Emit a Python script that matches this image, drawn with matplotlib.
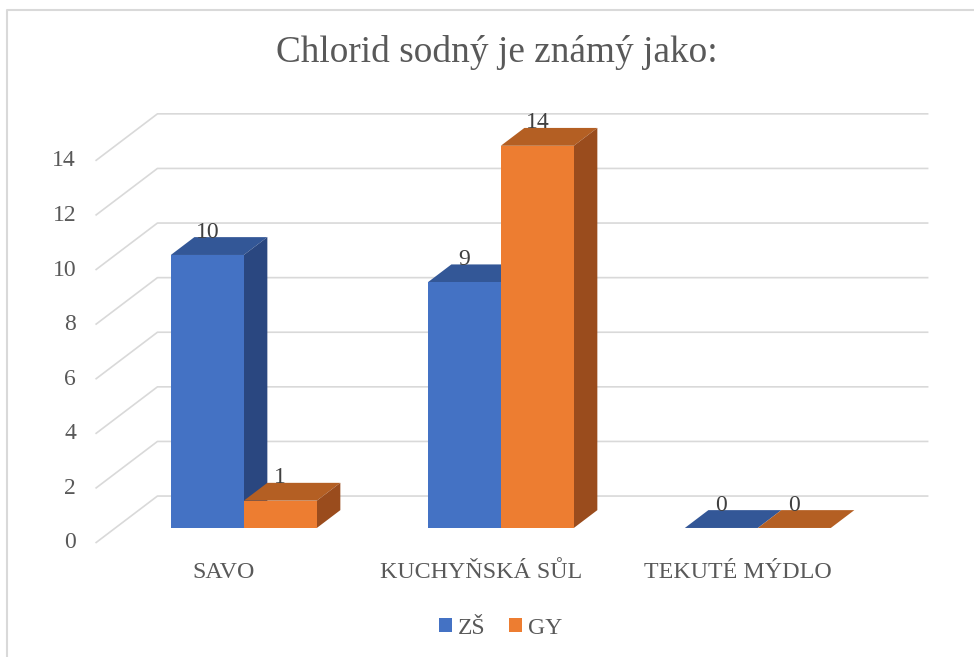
import matplotlib
matplotlib.use('Agg')
import matplotlib.pyplot as plt
from matplotlib.patches import Polygon
from matplotlib.lines import Line2D

plt.rcParams['font.family'] = ['Liberation Serif', 'DejaVu Serif']

# data
categories = ['SAVO', 'KUCHYŇSKÁ SŮL', 'TEKUTÉ MÝDLO']
zs = [10, 9, 0]
gy = [1, 14, 0]
series = [('ZŠ', zs), ('GY', gy)]
y_ticks = [0, 2, 4, 6, 8, 10, 12, 14]

# colours: front, top, side
colors = {
    'ZŠ': ('#4472C4', '#335797', '#2A4780'),
    'GY': ('#ED7D31', '#B45F23', '#9A4C1D'),
}
text_col = '#595959'
grid_col = '#D9D9D9'

# fake 3d geometry (oblique projection)
ddx, ddy = 0.241, 1.72   # offset of full floor depth
f0, f1 = 0.32, 0.70      # bar front / back depth
bw = 0.284               # bar width

fig = plt.figure(figsize=(9.74, 6.57), dpi=100)
ax = fig.add_axes([0, 0, 1, 1])
ax.set_xlim(-224 / 257, (974 - 224) / 257)
ax.set_ylim((543 - 657) / 27.3, 543 / 27.3)
ax.axis('off')

# walls gridlines
for v in y_ticks:
    ax.plot([-0.5, -0.5 + ddx, 2.5 + ddx], [v, v + ddy, v + ddy],
            color=grid_col, lw=1.2, zorder=1, solid_capstyle='butt')
    ax.annotate(str(v), (-0.5, v), xytext=(-14, 0), textcoords='offset points',
                ha='right', va='center', fontsize=17, color=text_col)

# bars
for i, cat in enumerate(categories):
    for k, (name, vals) in enumerate(series):
        v = vals[i]
        front, top, side = colors[name]
        x0 = i - bw + k * bw + f0 * ddx
        x1 = x0 + bw
        y0 = f0 * ddy
        y1 = y0 + v
        sx = (f1 - f0) * ddx
        sy = (f1 - f0) * ddy
        z = 3 + i * 3 + k
        ax.add_patch(Polygon([(x0, y1), (x1, y1), (x1 + sx, y1 + sy), (x0 + sx, y1 + sy)],
                             closed=True, facecolor=top, edgecolor='none', zorder=z))
        if v > 0:
            ax.add_patch(Polygon([(x1, y0), (x1 + sx, y0 + sy), (x1 + sx, y1 + sy), (x1, y1)],
                                 closed=True, facecolor=side, edgecolor='none', zorder=z))
            ax.bar(x0, v, width=bw, bottom=y0, align='edge', color=front,
                   edgecolor='none', zorder=z, label=name if i == 0 else None)
        ax.annotate(str(v), (x0 + bw / 2, y1), xytext=(0, 16.5), textcoords='offset points',
                    ha='center', va='center', fontsize=17, color='#404040', zorder=20)
    ax.annotate(cat, (i, 0), xytext=(0, -21.5), textcoords='offset points',
                ha='center', va='center', fontsize=17.3, color=text_col)

fig.text(497 / 974, 1 - 53 / 657, 'Chlorid sodný je známý jako:',
         ha='center', va='center', fontsize=26.8, color=text_col)

fig.legend(loc='center', bbox_to_anchor=(501 / 974, 1 - 628 / 657), ncol=2, frameon=False,
           fontsize=17, labelcolor=text_col, handlelength=0.55, handleheight=0.55,
           handletextpad=0.25, columnspacing=1.0)

# chart border (only left and top visible)
fig.add_artist(Line2D([7 / 974, 7 / 974, 1], [0, 1 - 10 / 657, 1 - 10 / 657],
                      color=grid_col, lw=1.5, transform=fig.transFigure))

fig.savefig('out.png', dpi=100)
